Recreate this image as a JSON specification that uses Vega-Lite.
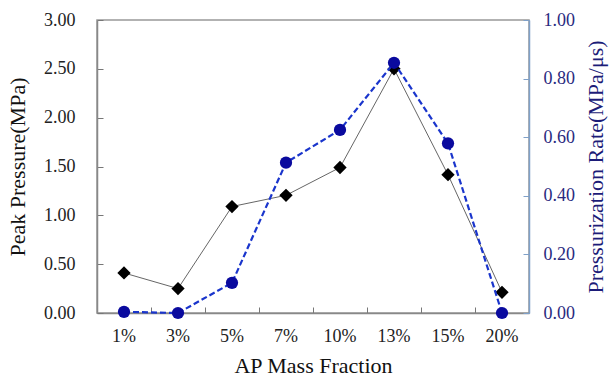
{
  "$schema": "https://vega.github.io/schema/vega-lite/v6.json",
  "width": 432,
  "height": 293,
  "autosize": "none",
  "padding": {"left": 97, "top": 20, "right": 81, "bottom": 64},
  "background": "white",
  "config": {
    "view": {"stroke": "#999999", "strokeWidth": 1.5},
    "font": "Liberation Serif",
    "axis": {"labelFont": "Liberation Serif", "titleFont": "Liberation Serif", "titleFontWeight": "normal", "grid": false}
  },
  "data": {
    "values": [
      {"frac": "1%", "pressure": 0.41, "rate": 0.004},
      {"frac": "3%", "pressure": 0.25, "rate": 0.0},
      {"frac": "5%", "pressure": 1.09, "rate": 0.103},
      {"frac": "7%", "pressure": 1.205, "rate": 0.513},
      {"frac": "10%", "pressure": 1.49, "rate": 0.625},
      {"frac": "13%", "pressure": 2.5, "rate": 0.854},
      {"frac": "15%", "pressure": 1.416, "rate": 0.579},
      {"frac": "20%", "pressure": 0.212, "rate": 0.0}
    ]
  },
  "encoding": {
    "x": {
      "field": "frac", "type": "ordinal", "sort": null, "bandPosition": 0.5,
      "scale": {"type": "band", "paddingInner": 0, "paddingOuter": 0},
      "axis": {
        "title": "AP Mass Fraction", "titleFont": "Liberation Serif", "titleFontSize": 22, "titleColor": "#111111", "titlePadding": 10,
        "labelFont": "Liberation Serif", "labelAngle": 0, "labelFontSize": 18, "labelColor": "#222222", "labelPadding": 20,
        "bandPosition": 0, "tickSize": -6, "tickColor": "#777777", "domainColor": "#888888", "domainWidth": 1.5
      }
    }
  },
  "layer": [
    {
      "layer": [
        {"mark": {"type": "line", "color": "#666666", "strokeWidth": 1}},
        {"mark": {"type": "point", "shape": "diamond", "filled": true, "color": "#000000", "size": 110, "opacity": 1, "stroke": "#000000"}}
      ],
      "encoding": {
        "y": {
          "field": "pressure", "type": "quantitative",
          "scale": {"domain": [0, 3], "nice": false},
          "axis": {
            "title": "Peak Pressure(MPa)", "titleFont": "Liberation Serif", "titleFontSize": 22, "titleColor": "#111111", "titlePadding": 14,
            "orient": "left", "values": [0, 0.5, 1, 1.5, 2, 2.5, 3], "format": ".2f",
            "labelFont": "Liberation Serif", "labelFontSize": 18, "labelColor": "#222222", "labelPadding": 28,
            "tickSize": -6, "tickColor": "#777777", "domainColor": "#888888", "domainWidth": 1.5
          }
        }
      }
    },
    {
      "layer": [
        {"mark": {"type": "line", "color": "#1a35cc", "strokeWidth": 2.2, "strokeDash": [6, 3]}},
        {"mark": {"type": "point", "shape": "circle", "filled": true, "color": "#0a0a9e", "size": 150, "opacity": 1}}
      ],
      "encoding": {
        "y": {
          "field": "rate", "type": "quantitative",
          "scale": {"domain": [0, 1], "nice": false},
          "axis": {
            "title": "Pressurization  Rate(MPa/μs)", "titleFont": "Liberation Serif", "titleFontSize": 22, "titleColor": "#1c1c78", "titlePadding": 11, "titleAngle": 270, "titleBaseline": "top",
            "orient": "right", "values": [0, 0.2, 0.4, 0.6, 0.8, 1], "format": ".2f",
            "labelFont": "Liberation Serif", "labelFontSize": 18, "labelColor": "#2a2a80", "labelPadding": 20,
            "tickSize": -6, "tickColor": "#7fa0c8", "domainColor": "#7fa0c8", "domainWidth": 1.5
          }
        }
      }
    }
  ],
  "resolve": {"scale": {"y": "independent"}}
}
